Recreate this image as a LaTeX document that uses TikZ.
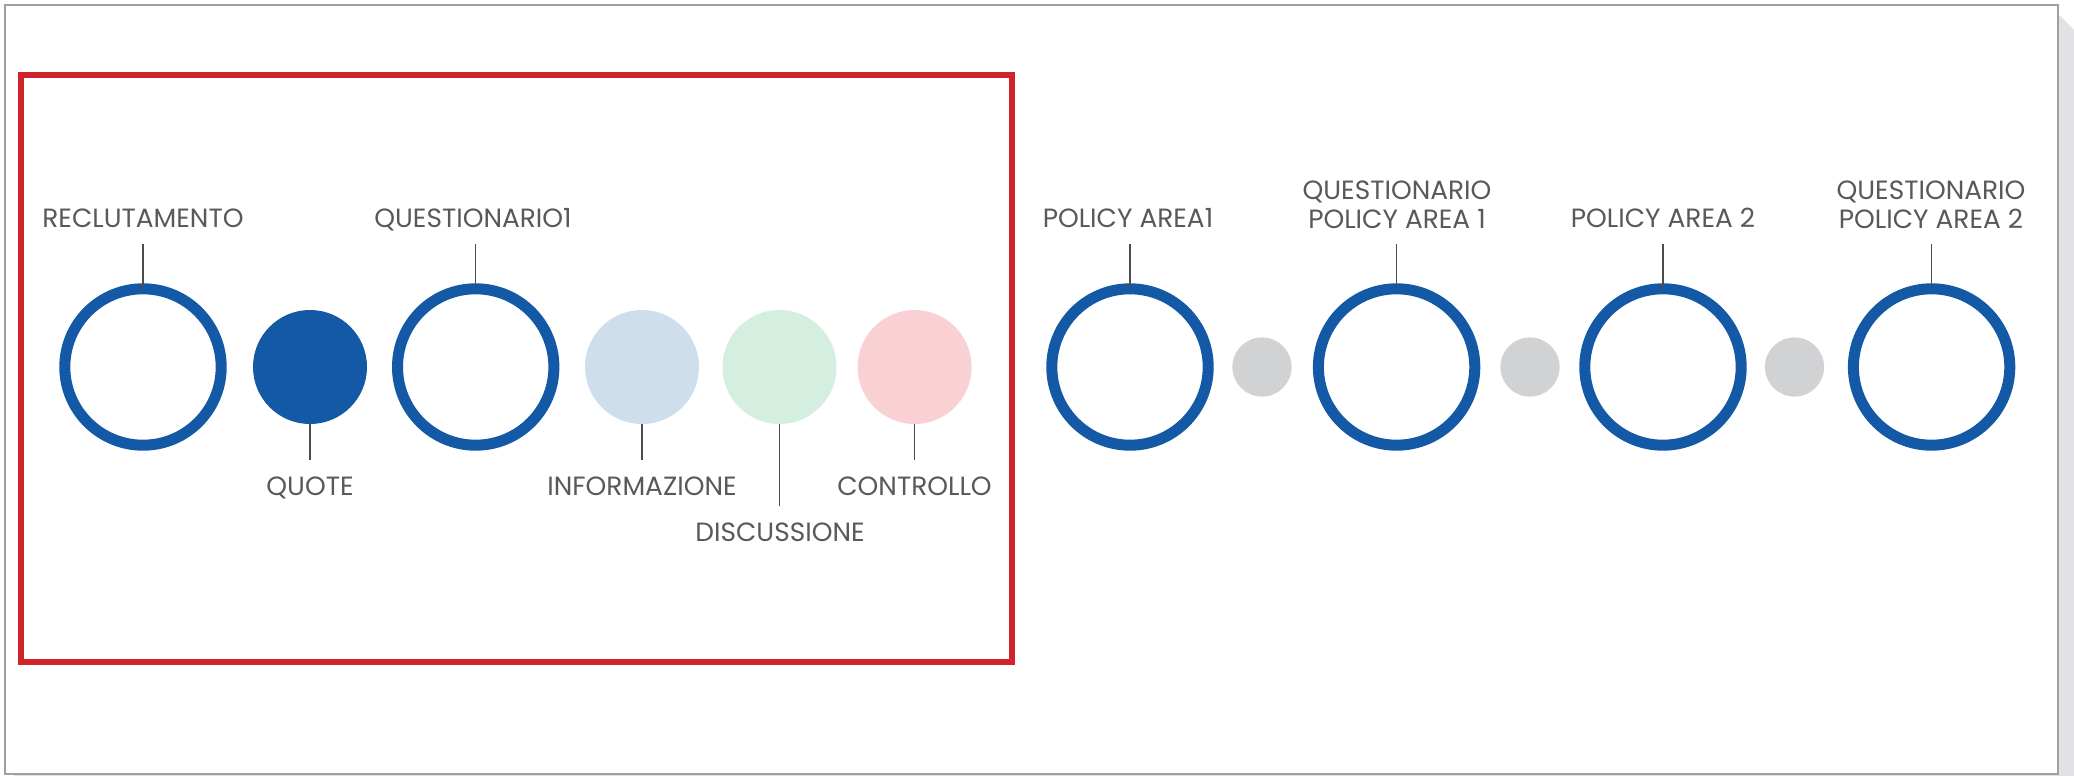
\documentclass[tikz,border=0pt]{standalone}
\usepackage{fontspec}
\setmainfont{Poppins}
\definecolor{ringblue}{HTML}{1459A6}
\definecolor{lblue}{HTML}{CFDEED}
\definecolor{lgreen}{HTML}{D4EEDF}
\definecolor{lpink}{HTML}{F9D1D4}
\definecolor{lgray}{HTML}{D1D2D4}
\definecolor{boxred}{HTML}{D2232A}
\definecolor{txtgray}{HTML}{58595B}
\definecolor{framegray}{HTML}{A0A0A0}
\definecolor{shadowgray}{HTML}{E2E2E4}
\begin{document}
\begin{tikzpicture}[x=0.5pt,y=-0.5pt,
  ring/.style={circle,draw=ringblue,line width=5.5pt,minimum size=78.2pt,inner sep=0pt},
  dot/.style={circle,minimum size=57pt,inner sep=0pt},
  gdot/.style={circle,fill=lgray,minimum size=29.6pt,inner sep=0pt},
  lbl/.style={anchor=base,inner sep=0pt,text=txtgray,font=\fontsize{13.2}{15}\selectfont},
  tick/.style={draw=black!70,line width=0.6pt}]
\useasboundingbox (0,0) rectangle (2074,776);
\fill[white] (0,0) rectangle (2074,776);
% page shadow and frame
\fill[shadowgray] (2058,14) -- (2074,30) -- (2074,776) -- (2058,776) -- cycle;
\fill[shadowgray] (14,774) rectangle (2074,776);
\draw[framegray,line width=0.8pt] (5,5) rectangle (2058,774);
% red box
\draw[boxred,line width=2.6pt] (21,75) rectangle (1012,662);
% circles
\node[ring] (A) at (143,367) {};
\node[dot,fill=ringblue] (B) at (310,367) {};
\node[ring] (C) at (475.7,367) {};
\node[dot,fill=lblue] (D) at (642,367) {};
\node[dot,fill=lgreen] (E) at (779.5,367) {};
\node[dot,fill=lpink] (F) at (914.6,367) {};
\node[ring] (G) at (1130,367) {};
\node[gdot] (g1) at (1262,367) {};
\node[ring] (H) at (1396.6,367) {};
\node[gdot] (g2) at (1530,367) {};
\node[ring] (I) at (1663,367) {};
\node[gdot] (g3) at (1794.5,367) {};
\node[ring] (J) at (1931.6,367) {};
% tick ends
\coordinate (tA) at (143,244);
\coordinate (tC) at (475.7,244);
\coordinate (tG) at (1130,244);
\coordinate (tH) at (1396.6,244);
\coordinate (tI) at (1663,244);
\coordinate (tJ) at (1931.6,244);
\coordinate (tB) at (310,460);
\coordinate (tD) at (642,460);
\coordinate (tE) at (779.5,506);
\coordinate (tF) at (914.6,460);
\foreach \n/\t in {A/tA,C/tC,G/tG,H/tH,I/tI,J/tJ}{\draw[tick] ([yshift=-2.75pt]\n.north) -- (\t);}
\foreach \n/\t in {B/tB,D/tD,E/tE,F/tF}{\draw[tick] (\n.south) -- (\t);}
% labels
\node[lbl] (LA) at (143,227) {RECLUTAMENTO};
\node[lbl] (LC) at (473,227) {QUESTIONARIO1};
\node[lbl] (LG) at (1128,227) {POLICY AREA1};
\node[lbl] (LH1) at (1397,199.5) {QUESTIONARIO};
\node[lbl] (LH2) at (1397,228) {POLICY AREA 1};
\node[lbl] (LI) at (1663,227) {POLICY AREA 2};
\node[lbl] (LJ1) at (1931,199.5) {QUESTIONARIO};
\node[lbl] (LJ2) at (1931,228) {POLICY AREA 2};
\node[lbl] (LB) at (310,495) {QUOTE};
\node[lbl] (LD) at (642,495) {INFORMAZIONE};
\node[lbl] (LE) at (780,541.5) {DISCUSSIONE};
\node[lbl] (LF) at (914.5,495) {CONTROLLO};
\end{tikzpicture}
\end{document}
